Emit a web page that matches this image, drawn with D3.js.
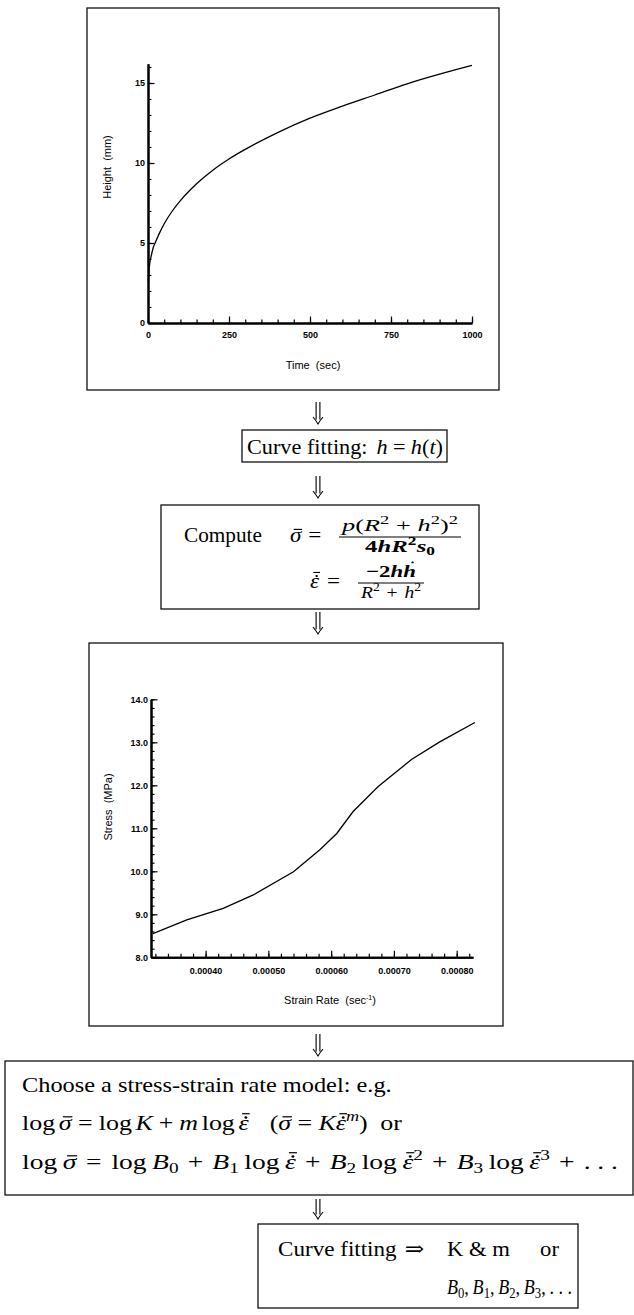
<!DOCTYPE html>
<html>
<head>
<meta charset="utf-8">
<script src="https://cdn.jsdelivr.net/npm/d3@7"></script>
<style>
  html, body { margin: 0; padding: 0; background: #fff; }
  svg { display: block; }
  text { white-space: pre; }
</style>
</head>
<body>
<svg id="fig" width="634" height="1315"></svg>
<script>
// ---- specimen height during the bulge test ----
const timeSec  = [1, 3, 6, 10, 16, 22, 35, 50, 75, 100, 150, 200, 250, 300, 400, 500, 600, 700, 800, 900, 1000];
const heightMm = [2.6, 3.3, 3.8, 4.2, 4.7, 5.0, 5.6, 6.2, 7.0, 7.65, 8.7, 9.55, 10.25, 10.85, 11.9, 12.8, 13.55, 14.25, 14.95, 15.55, 16.1];
const timeTicks   = [0, 250, 500, 750, 1000];
const heightTicks = [0, 5, 10, 15];

// ---- derived stress vs strain rate ----
const strainRate = [0.000316, 0.000370, 0.000428, 0.000476, 0.000540, 0.000582, 0.000609, 0.000635, 0.000675, 0.000728, 0.000773, 0.000829];
const stressMPa  = [8.55, 8.87, 9.14, 9.45, 9.99, 10.50, 10.88, 11.39, 11.97, 12.60, 13.01, 13.46];
const rateTicks   = [0.0004, 0.0005, 0.0006, 0.0007, 0.0008];
const stressTicks = [8, 9, 10, 11, 12, 13, 14];

const SANS  = "'Liberation Sans', Arial, Helvetica, sans-serif";
const SERIF = "'Liberation Serif', 'Times New Roman', serif";
const svg = d3.select('#fig');

function box(x0, y0, x1, y1, w) {
  svg.append('rect')
    .attr('x', x0).attr('y', y0).attr('width', x1 - x0).attr('height', y1 - y0)
    .attr('fill', 'none').attr('stroke', '#111').attr('stroke-width', w || 1.3);
}

// double-shafted down arrow between the steps
function downArrow(cx, y0, y1) {
  const g = svg.append('g').attr('fill', 'none').attr('stroke', '#000').attr('stroke-width', 1.1);
  g.append('path').attr('d', `M${cx - 1.9},${y0} V${y1 - 4.5} M${cx + 1.9},${y0} V${y1 - 4.5}`);
  g.append('path').attr('d', `M${cx - 5},${y1 - 7} Q${cx - 2},${y1 - 3.5} ${cx},${y1} Q${cx + 2},${y1 - 3.5} ${cx + 5},${y1 - 7}`);
}

function styleAxis(g, size, bold) {
  g.attr('font-family', SANS).attr('font-size', size).attr('font-weight', bold ? 'bold' : 'normal');
  g.select('.domain').attr('stroke', '#000').attr('stroke-width', 2);
  g.selectAll('.tick line').attr('stroke', '#000').attr('stroke-width', 1.2);
  g.selectAll('.tick text').attr('fill', '#000');
}

function plot(c) {
  const yBase = c.y.range()[0], xBase = c.x.range()[0];
  // minor ticks, pointing into the plot
  svg.append('g').attr('transform', `translate(0,${yBase})`)
    .call(d3.axisBottom(c.x).tickValues(c.xMinor).tickSizeInner(-3.5).tickSizeOuter(0).tickFormat(''))
    .call(g => styleAxis(g, 9, true));
  svg.append('g').attr('transform', `translate(${xBase},0)`)
    .call(d3.axisLeft(c.y).tickValues(c.yMinor).tickSizeInner(-3.5).tickSizeOuter(0).tickFormat(''))
    .call(g => styleAxis(g, 9, true));
  // major ticks with labels
  svg.append('g').attr('transform', `translate(0,${yBase})`)
    .call(d3.axisBottom(c.x).tickValues(c.xMajor).tickSizeInner(-6.5).tickSizeOuter(0).tickPadding(c.xPad).tickFormat(c.xFmt))
    .call(g => styleAxis(g, 9, true));
  svg.append('g').attr('transform', `translate(${xBase},0)`)
    .call(d3.axisLeft(c.y).tickValues(c.yMajor).tickSizeInner(-6.5).tickSizeOuter(0).tickPadding(3).tickFormat(c.yFmt))
    .call(g => styleAxis(g, 9, true));

  const line = d3.line().x(d => c.x(d[0])).y(d => c.y(d[1])).curve(c.curve);
  svg.append('path')
    .datum(d3.zip(c.xs, c.ys))
    .attr('d', line)
    .attr('fill', 'none').attr('stroke', '#000').attr('stroke-width', 1.3);
}

// ================= Height vs Time =================
box(87, 8, 499, 390);
const x1 = d3.scaleLinear().domain([0, 1000]).range([148, 472]);
const y1 = d3.scaleLinear().domain([0, 16.2]).range([323, 63.8]);
plot({
  x: x1, y: y1,
  xMajor: timeTicks, yMajor: heightTicks,
  xMinor: d3.range(0, 1001, 50), yMinor: d3.range(0, 17, 1),
  xFmt: d3.format('d'), yFmt: d3.format('d'), xPad: 9,
  xs: timeSec, ys: heightMm, curve: d3.curveMonotoneX
});
svg.append('text').attr('transform', 'translate(107,167) rotate(-90)')
  .attr('text-anchor', 'middle').attr('dominant-baseline', 'central')
  .attr('font-family', SANS).attr('font-size', 11).text('Height  (mm)');
svg.append('text').attr('x', 313).attr('y', 369).attr('text-anchor', 'middle')
  .attr('font-family', SANS).attr('font-size', 11).text('Time  (sec)');

// ================= Stress vs Strain rate =================
box(89, 643, 503, 1026);
const x2 = d3.scaleLinear().domain([0.000313, 0.000826]).range([151, 473]);
const y2 = d3.scaleLinear().domain([8, 14]).range([957.3, 699.3]);
plot({
  x: x2, y: y2,
  xMajor: rateTicks, yMajor: stressTicks,
  xMinor: d3.range(16, 42).map(i => i * 0.00002), yMinor: d3.range(0, 31).map(i => 8 + i * 0.2),
  xFmt: d3.format('.5f'), yFmt: d3.format('.1f'), xPad: 10,
  xs: strainRate, ys: stressMPa, curve: d3.curveLinear
});
svg.append('text').attr('transform', 'translate(108,807) rotate(-90)')
  .attr('text-anchor', 'middle').attr('dominant-baseline', 'central')
  .attr('font-family', SANS).attr('font-size', 11).text('Stress  (MPa)');
const srt = svg.append('text').attr('x', 330).attr('y', 1004).attr('text-anchor', 'middle')
  .attr('font-family', SANS).attr('font-size', 11);
srt.append('tspan').text('Strain Rate  (sec');
srt.append('tspan').attr('dy', -4).attr('font-size', 7).text('-1');
srt.append('tspan').attr('dy', 4).text(')');

// ================= typeset steps =================
function accent(g, kind, w, s) {
  const k = 0.07 * s; // italic slant offset
  const lw = 0.055 * s;
  if (kind === 'bar') {
    g.append('line').attr('x1', 0.18 * w + k).attr('x2', 0.92 * w + k)
      .attr('y1', -0.6 * s).attr('y2', -0.6 * s).attr('stroke', '#000').attr('stroke-width', lw);
  } else if (kind === 'dotbar') {
    g.append('circle').attr('cx', 0.55 * w + k).attr('cy', -0.57 * s).attr('r', 0.055 * s).attr('fill', '#000');
    g.append('line').attr('x1', 0.18 * w + k).attr('x2', 0.92 * w + k)
      .attr('y1', -0.74 * s).attr('y2', -0.74 * s).attr('stroke', '#000').attr('stroke-width', lw);
  } else if (kind === 'dot') {
    g.append('circle').attr('cx', 0.55 * w + 0.1 * s).attr('cy', -0.86 * s).attr('r', 0.055 * s).attr('fill', '#000');
  }
}

// lays out a row of tokens left to right; glyphs are widened by a fixed
// factor and the spaces take up whatever is left of the requested width
function mathRow(tokens, o) {
  const g = svg.append('g');
  const s = o.size;
  const items = [];
  let G = 0, S = 0;
  tokens.forEach(tk => {
    if (tk.sp != null) { items.push({ sp: tk.sp * s }); S += tk.sp * s; return; }
    const fs = (tk.sup || tk.sub) ? s * 0.7 : s;
    const dy = tk.sup ? -0.42 * s : (tk.sub ? 0.2 * s : 0);
    const tg = g.append('g');
    const t = tg.append('text').attr('x', 0).attr('y', dy)
      .attr('font-family', tk.font || SERIF).attr('font-size', fs)
      .attr('font-style', tk.it ? 'italic' : 'normal')
      .attr('font-weight', o.bold ? 'bold' : 'normal')
      .attr('fill', '#000')
      .text(tk.t);
    const w = t.node().getComputedTextLength();
    if (tk.acc) accent(tg, tk.acc, w, s);
    items.push({ g: tg, w });
    G += w;
  });
  let gs = o.gs || 1, ss = 1;
  if (o.width) {
    if (S > 0) {
      ss = (o.width - G * gs) / S;
      if (ss < 0.3) { ss = 0.3; gs = (o.width - 0.3 * S) / G; }
    } else {
      gs = o.width / G;
    }
  }
  let cx = 0;
  items.forEach(it => {
    if (it.sp != null) { cx += it.sp * ss; return; }
    it.g.attr('transform', `translate(${cx},0) scale(${gs},1)`);
    cx += it.w * gs;
  });
  const x0 = o.anchor === 'middle' ? o.x - cx / 2 : o.x;
  g.attr('transform', `translate(${x0},${o.y})`);
  return g;
}

function fraction(num, den, o) {
  mathRow(num, { x: o.cx, y: o.axis - o.up, size: o.size, width: o.numW, gs: o.gs, anchor: 'middle', bold: o.boldNum });
  mathRow(den, { x: o.cx, y: o.axis + o.down, size: o.size, width: o.denW, gs: o.gs, anchor: 'middle', bold: o.boldDen });
  svg.append('line').attr('x1', o.cx - o.w / 2).attr('x2', o.cx + o.w / 2)
    .attr('y1', o.axis).attr('y2', o.axis).attr('stroke', '#000').attr('stroke-width', 1.1);
}

const sigmaBar = { t: 'σ', it: 1, acc: 'bar' };
const epsDot   = { t: 'ε', it: 1, acc: 'dotbar' };
const eq = [{ sp: 0.3 }, { t: '=' }, { sp: 0.3 }];
const plus = [{ sp: 0.28 }, { t: '+' }, { sp: 0.28 }];
const lg = [{ t: 'log' }, { sp: 0.17 }];

// arrows between the steps
downArrow(318, 402, 424);
downArrow(318, 476, 498);
downArrow(318, 612, 634);
downArrow(318, 1034, 1056);
downArrow(318, 1199, 1219);

// step: fit h(t)
box(242, 430, 447, 462);
mathRow([{ t: 'Curve fitting:' }, { sp: 0.5 }, { t: 'h', it: 1 }, ...eq, { t: 'h', it: 1 }, { t: '(' }, { t: 't', it: 1 }, { t: ')' }],
  { x: 247, y: 454, size: 21, gs: 1.06, width: 196 });

// step: stress and strain rate
box(161, 505, 479, 609);
mathRow([{ t: 'Compute' }], { x: 184, y: 542, size: 21, width: 78 });
mathRow([sigmaBar, ...eq], { x: 290, y: 542, size: 21, gs: 1.1, width: 38 });
fraction(
  [{ t: 'p', it: 1 }, { t: '(' }, { t: 'R', it: 1 }, { t: '2', sup: 1 }, { sp: 0.2 }, { t: '+' }, { sp: 0.2 }, { t: 'h', it: 1 }, { t: '2', sup: 1 }, { t: ')' }, { t: '2', sup: 1 }],
  [{ t: '4' }, { t: 'h', it: 1 }, { t: 'R', it: 1 }, { t: '2', sup: 1 }, { sp: 0.05 }, { t: 's', it: 1 }, { t: '0', sub: 1 }],
  { cx: 400, axis: 537, up: 6, down: 15, size: 17, gs: 1.55, numW: 116, denW: 70, w: 122, boldNum: false, boldDen: true });
mathRow([epsDot, ...eq], { x: 310, y: 588, size: 21, gs: 1.1, width: 38 });
fraction(
  [{ t: '−2' }, { t: 'h', it: 1 }, { t: 'h', it: 1, acc: 'dot' }],
  [{ t: 'R', it: 1 }, { t: '2', sup: 1 }, { sp: 0.15 }, { t: '+' }, { sp: 0.15 }, { t: 'h', it: 1 }, { t: '2', sup: 1 }],
  { cx: 391, axis: 583, up: 6, down: 15, size: 17, gs: 1.15, numW: 50, denW: 60, w: 66, boldNum: true, boldDen: false });

// step: choose the model
box(5, 1061, 633, 1195);
mathRow([{ t: 'Choose a stress-strain rate model: e.g.' }], { x: 22, y: 1092, size: 22, width: 370 });
mathRow([...lg, sigmaBar, ...eq, ...lg, { t: 'K', it: 1 }, ...plus, { t: 'm', it: 1 }, { sp: 0.17 }, ...lg, epsDot,
  { sp: 1.0 }, { t: '(' }, sigmaBar, ...eq, { t: 'K', it: 1 }, epsDot, { t: 'm', it: 1, sup: 1 }, { t: ')' }, { sp: 0.6 }, { t: 'or' }],
  { x: 22, y: 1130, size: 22, gs: 1.18, width: 380 });
mathRow([...lg, sigmaBar, ...eq, ...lg, { t: 'B', it: 1 }, { t: '0', sub: 1 },
  ...plus, { t: 'B', it: 1 }, { t: '1', sub: 1 }, { sp: 0.17 }, ...lg, epsDot,
  ...plus, { t: 'B', it: 1 }, { t: '2', sub: 1 }, { sp: 0.17 }, ...lg, epsDot, { t: '2', sup: 1 },
  ...plus, { t: 'B', it: 1 }, { t: '3', sub: 1 }, { sp: 0.17 }, ...lg, epsDot, { t: '3', sup: 1 },
  ...plus, { t: '. . .' }],
  { x: 22, y: 1169, size: 22, gs: 1.25, width: 596 });

// step: fit the model constants
box(258, 1224, 578, 1308);
mathRow([{ t: 'Curve fitting' }, { sp: 0.3 }, { t: '⇒', font: "'DejaVu Serif', serif" }], { x: 278, y: 1256, size: 21, gs: 1.1, width: 146 });
mathRow([{ t: 'K & m' }, { sp: 0.6 }, { t: 'or' }], { x: 447, y: 1256, size: 21, gs: 1.08, width: 112 });
mathRow([{ t: 'B', it: 1 }, { t: '0', sub: 1 }, { t: ',' }, { sp: 0.3 }, { t: 'B', it: 1 }, { t: '1', sub: 1 }, { t: ',' }, { sp: 0.3 },
  { t: 'B', it: 1 }, { t: '2', sub: 1 }, { t: ',' }, { sp: 0.3 }, { t: 'B', it: 1 }, { t: '3', sub: 1 }, { t: ',' }, { sp: 0.3 }, { t: '. . .' }],
  { x: 447, y: 1294, size: 21, gs: 0.86, width: 125 });
</script>
</body>
</html>
